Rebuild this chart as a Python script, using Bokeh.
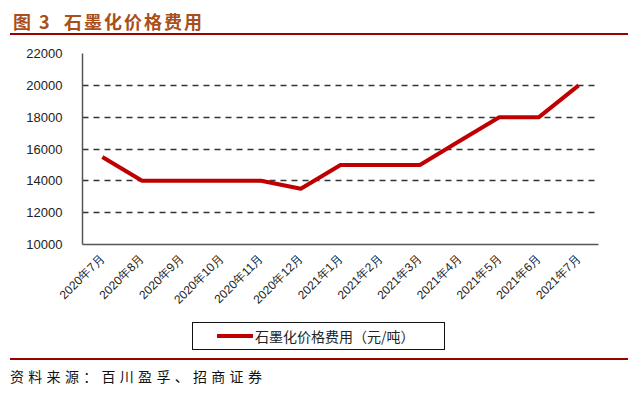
import math
from bokeh.plotting import figure
from bokeh.models import Range1d, FixedTicker, NumeralTickFormatter, Div
from bokeh.layouts import column
from bokeh.embed import file_html
from bokeh.resources import INLINE

months = ["2020年7月", "2020年8月", "2020年9月", "2020年10月", "2020年11月", "2020年12月",
          "2021年1月", "2021年2月", "2021年3月", "2021年4月", "2021年5月", "2021年6月", "2021年7月"]
price = [15500, 14000, 14000, 14000, 14000, 13500, 15000, 15000, 15000, 16500, 18000, 18000, 20000]
y_ticks = [10000, 12000, 14000, 16000, 18000, 20000, 22000]
series_name = "石墨化价格费用（元/吨）"
title_text = "图 3&nbsp;&nbsp;石墨化价格费用"
source_text = "资料来源：百川盈孚、招商证券"

W = 639
RED = "#C00000"
RULE = "#990000"

title_div = Div(width=W, height=38, margin=0, text=(
    f'<div style="margin-left:10px;width:618px;height:35px;border-bottom:2px solid {RULE};">'
    f'<span style="display:inline-block;margin-left:3px;margin-top:6px;line-height:30px;'
    f"font-family:'Noto Sans CJK SC';font-weight:bold;font-size:18px;letter-spacing:2px;"
    f'color:#A84F1C;">{title_text}</span></div>'))

p = figure(width=W, height=276, x_range=months, y_range=Range1d(10000, 22000),
           output_backend="svg", toolbar_location=None, margin=0,
           min_border_left=82, min_border_right=41, min_border_top=15, min_border_bottom=68)
p.outline_line_color = None
p.background_fill_color = "white"
p.border_fill_color = "white"

p.line(months, price, line_color=RED, line_width=4)

p.yaxis.ticker = FixedTicker(ticks=y_ticks)
p.yaxis.formatter = NumeralTickFormatter(format="0")
for ax in (p.xaxis, p.yaxis):
    ax.major_tick_line_color = None
    ax.minor_tick_line_color = None
    ax.axis_line_color = "#555555"
    ax.axis_line_width = 1.5
    ax.major_label_text_font = "Liberation Sans"
    ax.major_label_text_color = "#222222"
p.yaxis.major_label_text_font_size = "13px"
p.xaxis.major_label_text_font_size = "12px"
p.xaxis.major_label_orientation = math.pi / 4
p.xaxis.major_label_standoff = 6
p.yaxis.major_label_standoff = 14

p.xgrid.grid_line_color = None
p.ygrid.grid_line_color = "#333333"
p.ygrid.grid_line_dash = "6 5"
p.ygrid.grid_line_width = 1.3

legend_div = Div(width=W, height=44, margin=0, text=(
    '<div style="margin-left:192px;margin-top:8px;width:253px;height:28px;box-sizing:border-box;'
    'border:1px solid #111111;display:flex;align-items:center;">'
    f'<span style="display:inline-block;margin-left:24px;width:36px;height:4px;background:{RED};"></span>'
    "<span style=\"margin-left:2px;font-family:'Noto Sans CJK SC';font-size:14px;color:#222222;\">"
    f'{series_name}</span></div>'))

source_div = Div(width=W, height=37, margin=0, text=(
    f'<div style="margin-left:10px;width:618px;border-top:2px solid {RULE};padding-top:4px;'
    "line-height:24px;font-family:'Noto Sans CJK SC';font-size:14px;letter-spacing:4.3px;"
    f'color:#111111;">{source_text}</div>'))

layout = column(title_div, p, legend_div, source_div, spacing=0)
open("out.html", "w").write(file_html(layout, INLINE))
